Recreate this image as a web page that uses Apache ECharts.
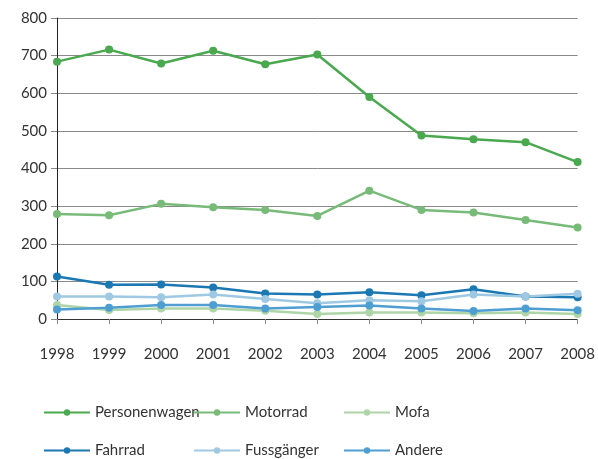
<!DOCTYPE html>
<html>
<head>
<meta charset="utf-8">
<script src="https://cdn.jsdelivr.net/npm/echarts@6/dist/echarts.min.js"></script>
<style>
  html, body { margin: 0; padding: 0; background: #fff; }
  #chart { width: 598px; height: 459px; }
</style>
</head>
<body>
<div id="chart"></div>
<script>
const years = ["1998", "1999", "2000", "2001", "2002", "2003", "2004", "2005", "2006", "2007", "2008"];
const personenwagen = [684, 716, 679, 713, 677, 703, 590, 488, 478, 470, 417];
const motorrad = [279, 276, 306, 297, 290, 274, 341, 290, 283, 263, 243];
const mofa = [37, 24, 28, 28, 22, 13, 17, 17, 15, 17, 13];
const fahrrad = [113, 91, 92, 84, 68, 65, 71, 63, 79, 60, 58];
const fussgaenger = [60, 60, 58, 65, 53, 42, 50, 47, 65, 60, 67];
const andere = [25, 30, 37, 37, 28, 32, 36, 28, 21, 28, 23];

const seriesDefs = [
  { name: "Personenwagen", data: personenwagen, color: "#4aa84f", left: 43, top: 405 },
  { name: "Motorrad", data: motorrad, color: "#78bb78", left: 193, top: 405 },
  { name: "Mofa", data: mofa, color: "#aed5a8", left: 343, top: 405 },
  { name: "Fahrrad", data: fahrrad, color: "#1b78b2", left: 43, top: 443 },
  { name: "Fussgänger", data: fussgaenger, color: "#9fc9e2", left: 193, top: 443 },
  { name: "Andere", data: andere, color: "#4f9ed2", left: 343, top: 443 }
];

const font = "Lato, sans-serif";

const chart = echarts.init(document.getElementById("chart"));
chart.setOption({
  animation: false,
  textStyle: { fontFamily: font },
  grid: { left: 57, right: 20, top: 18, bottom: 140 },
  legend: seriesDefs.map(s => ({
    data: [s.name],
    left: s.left,
    top: s.top,
    padding: 0,
    itemWidth: 46,
    itemHeight: 8,
    itemGap: 4,
    textStyle: { fontFamily: font, fontSize: 15, color: "#333" }
  })),
  xAxis: {
    type: "category",
    data: years,
    boundaryGap: false,
    axisLine: { lineStyle: { color: "#333", width: 1 } },
    axisTick: { show: true, length: 5, lineStyle: { color: "#888" } },
    axisLabel: { color: "#333", fontSize: 15, margin: 28 }
  },
  yAxis: {
    type: "value",
    min: 0,
    max: 800,
    interval: 100,
    axisLine: { show: true, lineStyle: { color: "#222", width: 1 } },
    axisTick: { show: true, length: 6, lineStyle: { color: "#888" } },
    axisLabel: { color: "#333", fontSize: 15, margin: 10 },
    splitLine: { lineStyle: { color: "#8a8a8a", width: 1 } }
  },
  series: seriesDefs.map(s => ({
    name: s.name,
    type: "line",
    data: s.data,
    color: s.color,
    symbol: "circle",
    symbolSize: 8,
    lineStyle: { width: 2.5, color: s.color },
    itemStyle: { color: s.color }
  }))
});
</script>
</body>
</html>
